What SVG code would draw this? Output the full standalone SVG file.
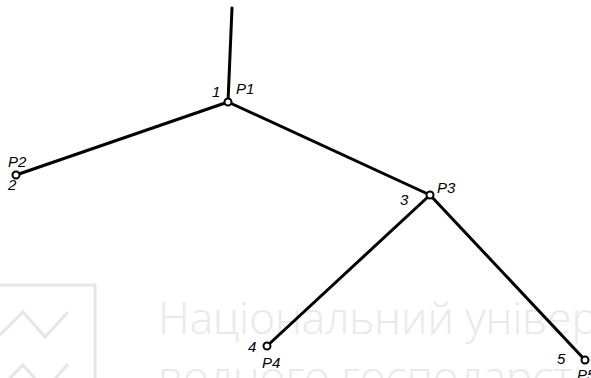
<svg xmlns="http://www.w3.org/2000/svg" width="591" height="378" viewBox="0 0 591 378">
<style>
.wm{font-family:"Open Sans","Noto Sans",sans-serif;font-size:44px;fill:#e9e9e9;font-weight:300}
.wl{fill:none;stroke:#e6e6e6;stroke-width:3}
.edge{stroke:#000;stroke-width:3;fill:none;stroke-linecap:round}
.nd{fill:#fff;stroke:#000;stroke-width:2}
.lb{font-family:"Liberation Sans",sans-serif;font-style:italic;font-size:15px;fill:#000}
</style>
<rect width="591" height="378" fill="#fff"/>
<g id="watermark">
<rect class="wl" x="-2" y="285" width="97" height="100"/>
<polyline class="wl" points="0,335 23,312 45,337 68,312"/>
<polyline class="wl" points="0,388 23,365 45,390 68,364"/>
<text class="wm" x="158" y="334">Національний універ</text>
<text class="wm" x="158" y="393">водного господарст</text>
</g>
<g id="connectors">
<line class="edge" x1="232" y1="8" x2="228" y2="102"/>
<line class="edge" x1="228" y1="102" x2="16" y2="175"/>
<line class="edge" x1="228" y1="102" x2="430" y2="195"/>
<line class="edge" x1="430" y1="195" x2="267" y2="346"/>
<line class="edge" x1="430" y1="195" x2="585" y2="360"/>
</g>
<g id="n1"><circle class="nd" cx="228" cy="102" r="3.5"/><text class="lb" x="212" y="97">1</text><text class="lb" x="236" y="94">P1</text></g>
<g id="n2"><circle class="nd" cx="16" cy="175" r="3.5"/><text class="lb" x="8" y="167">P2</text><text class="lb" x="8" y="190">2</text></g>
<g id="n3"><circle class="nd" cx="430" cy="195" r="3.5"/><text class="lb" x="400" y="205">3</text><text class="lb" x="437" y="193">P3</text></g>
<g id="n4"><circle class="nd" cx="267" cy="346" r="3.5"/><text class="lb" x="248" y="352">4</text><text class="lb" x="262" y="368">P4</text></g>
<g id="n5"><circle class="nd" cx="585" cy="360" r="3.5"/><text class="lb" x="557" y="364">5</text><text class="lb" x="577" y="380">P5</text></g>
</svg>
